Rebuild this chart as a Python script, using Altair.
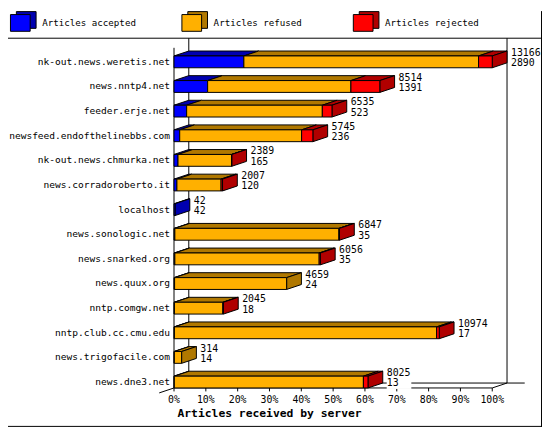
import altair as alt
import pandas as pd

# articles received per server (innreport style 3D bars)
servers = ["nk-out.news.weretis.net", "news.nntp4.net", "feeder.erje.net",
           "newsfeed.endofthelinebbs.com", "nk-out.news.chmurka.net",
           "news.corradoroberto.it", "localhost", "news.sonologic.net",
           "news.snarked.org", "news.quux.org", "nntp.comgw.net",
           "nntp.club.cc.cmu.edu", "news.trigofacile.com", "news.dne3.net"]
offered = [13166, 8514, 6535, 5745, 2389, 2007, 42, 6847, 6056, 4659, 2045, 10974, 314, 8025]
accepted = [2890, 1391, 523, 236, 165, 120, 42, 35, 35, 24, 18, 17, 14, 13]
refused = [9710, 5928, 5613, 5043, 2214, 1827, 0, 6787, 5971, 4635, 2002, 10847, 300, 7822]
rejected = [566, 1195, 399, 466, 10, 60, 0, 25, 50, 0, 25, 110, 0, 190]

series = ["Articles accepted", "Articles refused", "Articles rejected"]
front_colors = ["#0000FF", "#FFB000", "#FF0000"]
dark_colors = ["#0000B0", "#B07800", "#B00000"]
ticks = list(range(0, 101, 10))

W, H = 542, 422
PX = 3.23            # pixels per percent
DX = 15 / PX         # depth of the bars, in percent
DY = 0.2             # depth of the bars, in rows
FH = 0.48            # height of the front face, in rows
MONO = "DejaVu Sans Mono"

xs = alt.Scale(domain=[0, 100], range=[168.5, 491.5], nice=False, zero=False)
ys = alt.Scale(domain=[0, 14], range=[45.5, 395.5], nice=False, zero=False)
front_scale = alt.Scale(domain=series, range=front_colors)
dark_scale = alt.Scale(domain=series, range=dark_colors)

biggest = max(offered)
seg_rows, top_rows, side_rows, label_rows = [], [], [], []
for r, name in enumerate(servers):
    start = 0.0
    last = None
    for s, vals in zip(series, (accepted, refused, rejected)):
        v = vals[r]
        if v == 0:
            continue
        end = start + v / biggest * 100
        seg_rows.append(dict(r=r, r2=r + FH, a=start, b=end, seg=s))
        fid = f"{r}-{s}"
        top_rows.append(dict(id=fid, seg=s, y=r, x=start, x2=end))
        top_rows.append(dict(id=fid, seg=s, y=r - DY, x=start + DX, x2=end + DX))
        start = end
        last = s
    side_rows.append(dict(id=r, seg=last, x=start, y=r, y2=r + FH))
    side_rows.append(dict(id=r, seg=last, x=start + DX, y=r - DY, y2=r + FH - DY))
    n = max(len(str(offered[r])), len(str(accepted[r])))
    label_rows.append(dict(r=r, server=name, pct=start, offered=offered[r],
                           accepted=accepted[r],
                           bx=start + 19 / PX, bx2=start + (20 + 6 * n) / PX))

segs = pd.DataFrame(seg_rows)
tops = pd.DataFrame(top_rows)
sides = pd.DataFrame(side_rows)
labels = pd.DataFrame(label_rows)

last_row = len(servers) - 1
floor = last_row + FH
frame = pd.DataFrame([
    dict(x=0, x2=0, y=-0.33, y2=floor),
    dict(x=DX, x2=DX, y=-0.72, y2=floor - DY),
    dict(x=100 + DX, x2=100 + DX, y=-0.72, y2=floor - DY),
    dict(x=DX, x2=110.2, y=floor - DY, y2=floor - DY),
    dict(x=0, x2=100, y=floor, y2=floor),
    dict(x=100, x2=100 + DX, y=floor, y2=floor - DY),
    dict(x=-DX, x2=0, y=floor + DY, y2=floor),
])
tick_df = pd.DataFrame({"t": ticks})

X = lambda f: alt.X(f, scale=xs, axis=None)
Y = lambda f: alt.Y(f, scale=ys, axis=None)

frame_layer = alt.Chart(frame).mark_rule(color="black", strokeWidth=1).encode(
    x=X("x:Q"), x2="x2:Q", y=Y("y:Q"), y2="y2:Q")

tick_layer = alt.Chart(tick_df).transform_calculate(
    y0=str(floor), y1=str(floor + 0.14)
).mark_rule(color="black", strokeWidth=1).encode(
    x=X("t:Q"), y=Y("y0:Q"), y2="y1:Q")

tick_text = alt.Chart(tick_df).transform_calculate(
    lab="datum.t + '%'", yl=str(floor + 0.5)
).mark_text(font=MONO, fontSize=10, baseline="middle", align="center").encode(
    x=X("t:Q"), y=Y("yl:Q"), text="lab:N")

label_bg = alt.Chart(labels).transform_calculate(
    y0="datum.r - 0.36", y1="datum.r + 0.52"
).mark_rect(color="white").encode(
    x=X("bx:Q"), x2="bx2:Q", y=Y("y0:Q"), y2="y1:Q")

top_layer = alt.Chart(tops).mark_area(
    orient="horizontal", stroke="black", strokeWidth=1, strokeJoin="miter"
).encode(
    y=Y("y:Q"), x=alt.X("x:Q", scale=xs, axis=None, stack=None), x2="x2:Q",
    fill=alt.Fill("seg:N", scale=dark_scale, legend=None), detail="id:N")

side_layer = alt.Chart(sides).mark_area(
    orient="vertical", stroke="black", strokeWidth=1, strokeJoin="miter"
).encode(
    x=X("x:Q"), y=alt.Y("y:Q", scale=ys, axis=None, stack=None), y2="y2:Q",
    fill=alt.Fill("seg:N", scale=dark_scale, legend=None), detail="id:N")

front_layer = alt.Chart(segs).mark_rect(stroke="black", strokeWidth=1).encode(
    x=X("a:Q"), x2="b:Q", y=Y("r:Q"), y2="r2:Q",
    color=alt.Color("seg:N", scale=front_scale, legend=None))

name_text = alt.Chart(labels).transform_calculate(
    ym=f"datum.r + {FH / 2}"
).mark_text(font=MONO, fontSize=9.7, align="right", baseline="middle").encode(
    x=alt.value(164.5), y=Y("ym:Q"), text="server:N")

total_text = alt.Chart(labels).transform_calculate(
    ym="datum.r - 0.12"
).mark_text(font=MONO, fontSize=10, align="left", baseline="middle", dx=19).encode(
    x=X("pct:Q"), y=Y("ym:Q"), text="offered:Q")

acc_text = alt.Chart(labels).transform_calculate(
    ym="datum.r + 0.3"
).mark_text(font=MONO, fontSize=10, align="left", baseline="middle", dx=19).encode(
    x=X("pct:Q"), y=Y("ym:Q"), text="accepted:Q")

title_text = alt.Chart(pd.DataFrame({"t": ["Articles received by server"]})).mark_text(
    font=MONO, fontSize=11.5, fontWeight="bold", align="left", baseline="middle"
).encode(x=alt.value(172), y=alt.value(408.5), text="t:N")

one = pd.DataFrame({"k": [0]})
border = [
    alt.Chart(one).mark_rule(color="black").encode(
        x=alt.value(W - 0.5), y=alt.value(0), y2=alt.value(H)),
    alt.Chart(one).mark_rule(color="black").encode(
        x=alt.value(0), x2=alt.value(W), y=alt.value(H - 0.5)),
    alt.Chart(one).mark_rule(color="black").encode(
        x=alt.value(0), x2=alt.value(W), y=alt.value(27.5)),
]

legend = []
for i, (s, fc, dc) in enumerate(zip(series, front_colors, dark_colors)):
    x0 = 2.5 + 174 * i
    d = pd.DataFrame({"s": [s]})
    legend.append(alt.Chart(d).mark_rect(fill=dc, stroke="black", strokeWidth=1).encode(
        x=alt.value(x0 + 6), x2=alt.value(x0 + 26), y=alt.value(0.5), y2=alt.value(17.5)))
    legend.append(alt.Chart(d).mark_rect(fill=fc, stroke="black", strokeWidth=1).encode(
        x=alt.value(x0), x2=alt.value(x0 + 20), y=alt.value(3.5), y2=alt.value(20.5)))
    legend.append(alt.Chart(d).mark_text(
        font=MONO, fontSize=9.3, align="left", baseline="middle").encode(
        x=alt.value(x0 + 32.2), y=alt.value(12.5), text="s:N"))

chart = alt.layer(
    frame_layer, tick_layer, tick_text, label_bg,
    top_layer, side_layer, front_layer,
    name_text, total_text, acc_text, title_text,
    *border, *legend
).properties(
    width=W, height=H, padding=0, autosize=alt.AutoSizeParams(type="none"),
    background="white"
).configure_view(stroke=None)

chart.save("out.html", embed_options={"renderer": "svg", "actions": False})
